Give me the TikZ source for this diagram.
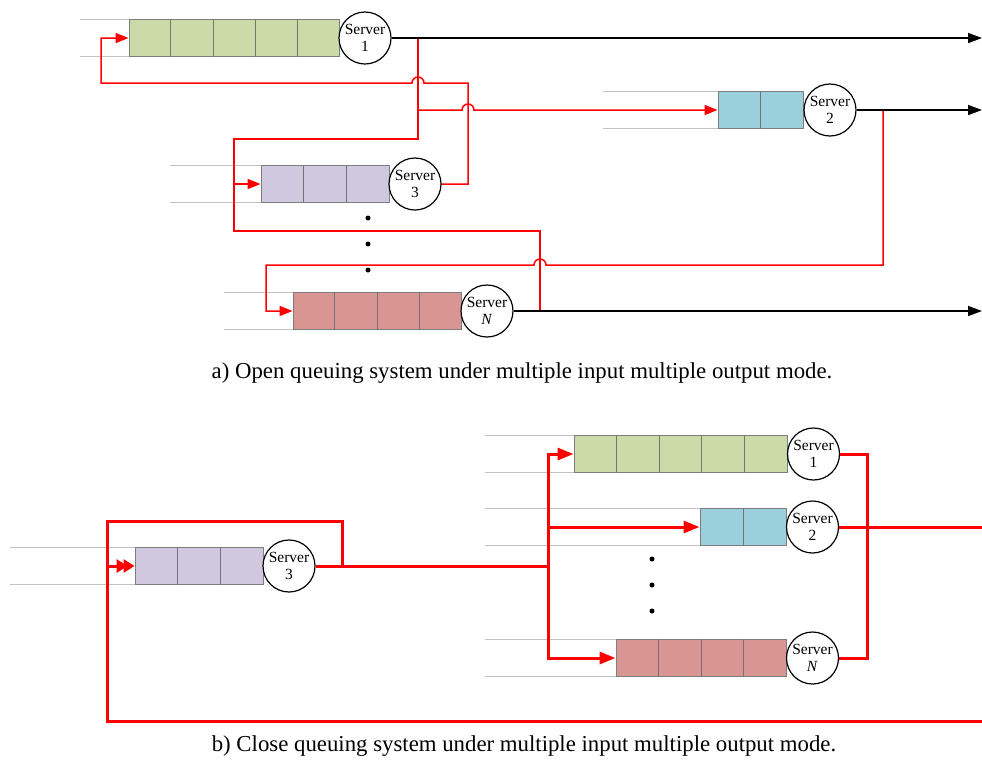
\documentclass[tikz,border=0pt]{standalone}
\usepackage{fontspec}
\setmainfont{Liberation Serif}
\usetikzlibrary{arrows.meta,calc}

\definecolor{qgreen}{RGB}{202,218,168}
\definecolor{qblue}{RGB}{155,207,219}
\definecolor{qpurple}{RGB}{208,200,222}
\definecolor{qrose}{RGB}{217,149,146}
\definecolor{leadgray}{RGB}{195,195,195}
\definecolor{edgegray}{RGB}{125,125,125}

\tikzset{
  qbox/.style={draw=edgegray, line width=0.9pt, rectangle, inner sep=0pt, minimum height=37pt},
  qdiv/.style={draw=black!55, line width=0.8pt},
  lead/.style={draw=leadgray, line width=1pt},
  server/.style={circle, draw=black, line width=1.2pt, fill=white, minimum size=52pt, inner sep=0pt},
  srv/.style={font=\fontsize{15.5}{17.5}\selectfont, align=center, inner sep=0pt},
  flowA/.style={red, line width=1.5pt},
  flowB/.style={red, line width=3pt},
  outA/.style={black, line width=1.5pt, -{Triangle[length=14pt,width=10pt]}},
  tipA/.style={-{Triangle[length=13pt,width=10pt]}},
  tipB/.style={-{Triangle[length=16pt,width=12pt]}},
  tipBB/.style={-{Triangle[length=11pt,width=13pt,sep=-4pt]Triangle[length=11pt,width=13pt]}},
  dotm/.style={circle, fill=black, inner sep=0pt, minimum size=5pt},
  caption/.style={font=\fontsize{22.8}{26}\selectfont, inner sep=0pt, anchor=base}
}

% queue: name, centre x, centre y, width, cells, fill, length of the lead lines
\newcommand\queuebox[7]{%
  \node[qbox, fill=#6, minimum width=#4pt] (#1) at (#2,#3) {};
  \pgfmathtruncatemacro\qlast{#5-1}
  \foreach \k in {1,...,\qlast}
    \draw[qdiv] ($(#1.north west)!\k/#5!(#1.north east)$) -- ($(#1.south west)!\k/#5!(#1.south east)$);
  \draw[lead] (#1.north west) -- ++(-#7,0);
  \draw[lead] (#1.south west) -- ++(-#7,0);
}
% server: name, centre x, centre y, label
\newcommand\serverat[4]{%
  \node[server] (#1) at (#2,#3) {};
  \node[srv] at (#1) {Server\\#4};
}

\begin{document}
\begin{tikzpicture}[x=1pt,y=-1pt]
\useasboundingbox (0,0) rectangle (982,764);

% ---------------- a) open system ----------------
\queuebox{q1a}{234}{38}{210}{5}{qgreen}{49}
\queuebox{q2a}{760.5}{110}{85}{2}{qblue}{115}
\queuebox{q3a}{325}{184}{128}{3}{qpurple}{91}
\queuebox{qna}{377}{311}{168}{4}{qrose}{69}

% routing lines
\draw[flowA, tipA] (441,184) -- (468,184) -- (468,83) -- (424,83)
  arc[start angle=0, end angle=-180, radius=6] -- (101,83) -- (101,38) -- (q1a.west);
\draw[flowA] (418,38) -- (418,139) -- (234,139) -- (234,231) -- (540,231) -- (540,311);
\draw[flowA, tipA] (418,110) -- (462,110)
  arc[start angle=180, end angle=360, radius=6] -- (q2a.west);
\draw[flowA, tipA] (234,184) -- (q3a.west);
\draw[flowA, tipA] (883,110) -- (883,265) -- (546,265)
  arc[start angle=0, end angle=-180, radius=6] -- (266,265) -- (266,311) -- (qna.west);

\serverat{s1a}{365}{38}{1}
\serverat{s2a}{830}{110}{2}
\serverat{s3a}{415}{184}{3}
\serverat{sna}{487}{311}{\textit{N}}

\coordinate (o1a) at (982,38);
\coordinate (o2a) at (982,110);
\coordinate (ona) at (982,311);
\draw[outA] (s1a.east) -- (o1a);
\draw[outA] (s2a.east) -- (o2a);
\draw[outA] (sna.east) -- (ona);

\node[dotm] (da1) at (368,218) {};
\node[dotm] (da2) at (368,244) {};
\node[dotm] (da3) at (368,270) {};

\node[caption] (capa) at (522,378) {a) Open queuing system under multiple input multiple output mode.};

% ---------------- b) closed system ----------------
\queuebox{q3b}{199}{566}{128}{3}{qpurple}{125}
\queuebox{q1b}{680.5}{454}{213}{5}{qgreen}{89}
\queuebox{q2b}{743}{527}{86}{2}{qblue}{215}
\queuebox{qnb}{701}{658}{170}{4}{qrose}{131}

\serverat{s3b}{289}{566}{3}
\serverat{s1b}{813.5}{454}{1}
\serverat{s2b}{812.5}{527}{2}
\serverat{snb}{812.5}{658}{\textit{N}}

\coordinate (fork) at (548,566);
\coordinate (o2b) at (982,527);
\coordinate (loopend) at (982,721);
\draw[flowB] (s3b.east) -- (fork);
\draw[flowB] (342,566) -- (342,521) -- (107,521) -- (107,721) -- (loopend);
\draw[flowB, tipBB] (107,566) -- (q3b.west);
\draw[flowB, tipB] (fork) -- (548,454) -- (q1b.west);
\draw[flowB, tipB] (548,527) -- (q2b.west);
\draw[flowB, tipB] (fork) -- (548,658) -- (qnb.west);
\draw[flowB] (s1b.east) -- (867,454) -- (867,658) -- (snb.east);
\draw[flowB] (s2b.east) -- (o2b);

\node[dotm] (db1) at (652,559) {};
\node[dotm] (db2) at (652,585) {};
\node[dotm] (db3) at (652,611) {};

\node[caption] (capb) at (524,751) {b) Close queuing system under multiple input multiple output mode.};
\end{tikzpicture}
\end{document}
